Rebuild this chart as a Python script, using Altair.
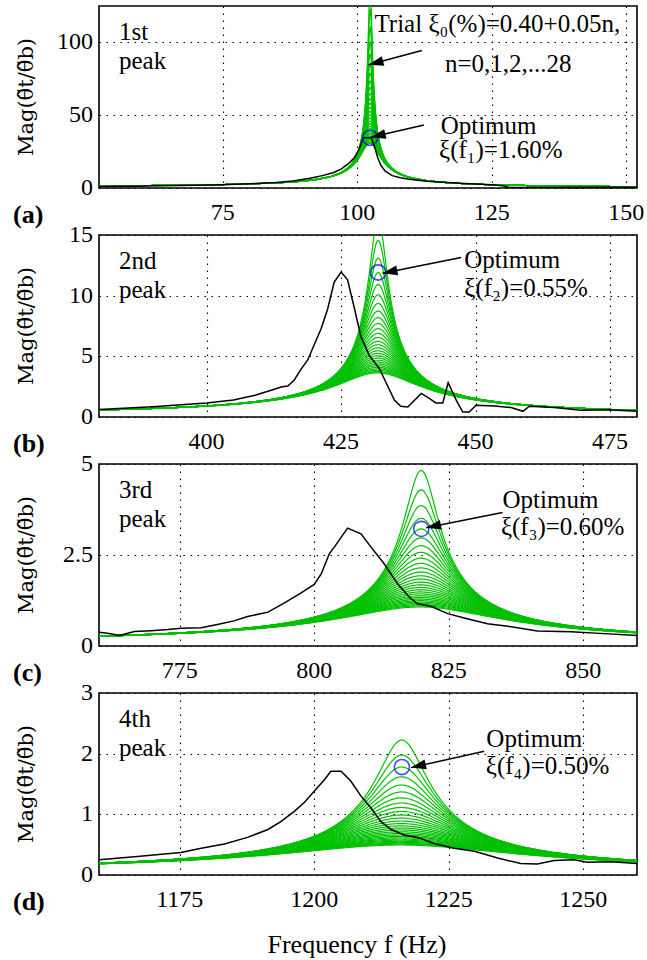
import math
import numpy as np
import pandas as pd
import altair as alt

FONT = "Liberation Serif"
GREEN = "#00c000"
W, H = 538, 182

# Trial damping ratios (%) : 0.40 + 0.05n, n = 0..28
trial_xi = [0.40, 0.45, 0.50, 0.55, 0.60, 0.65, 0.70, 0.75, 0.80, 0.85,
            0.90, 0.95, 1.00, 1.05, 1.10, 1.15, 1.20, 1.25, 1.30, 1.35,
            1.40, 1.45, 1.50, 1.55, 1.60, 1.65, 1.70, 1.75, 1.80]

panel_tags = ["(a)", "(b)", "(c)", "(d)"]
peak_names = ["1st", "2nd", "3rd", "4th"]
x_domains = [(52, 152), (380, 480), (760, 860), (1160, 1260)]
x_ticks = [[75, 100, 125, 150], [400, 425, 450, 475],
           [775, 800, 825, 850], [1175, 1200, 1225, 1250]]
y_max = [125, 15, 5, 3]
y_ticks = [[0, 50, 100], [0, 5, 10, 15], [0, 2.5, 5], [0, 1, 2, 3]]
y_title = "Mag(θ̃t/θ̃b)"
x_title = "Frequency f (Hz)"

# single-mode model of each peak
natural_freq = [102.4, 431.9, 819.9, 1216.3]
modal_gain = [1.104, 0.131, 0.0386, 0.0178]
optimum_xi = [1.60, 0.55, 0.60, 0.50]
opt_sub = ["₁", "₂", "₃", "₄"]

# measured transmissibility
meas_f = [
    [52, 58, 64, 70, 75, 80, 85, 88, 91, 93.5, 95.5, 97, 98.3, 99.5, 100.4, 101.1,
     102.6, 103.2, 103.8, 104.4, 105.2, 106.5, 108, 110, 113, 116, 120, 125, 127,
     128.3, 130, 135, 140, 145, 152],
    [380, 390, 400, 405, 409, 412, 414, 415.1, 416.3, 417.5, 418.8, 420, 421.3, 422.5,
     423.7, 425, 426.2, 427.5, 428.7, 430.2, 432.1, 434.9, 436.1, 437.4, 439.9, 441.4,
     442.6, 443.9, 444.9, 446.4, 447.6, 448.8, 450.1, 453.5, 456.6, 458.8, 460, 464.6,
     469.6, 474.6, 480],
    [760, 761.6, 763.8, 766.6, 769.7, 772.8, 775.2, 779, 782, 785.1, 787.6, 791.4,
     794.4, 797.5, 800, 801.3, 802.8, 803.7, 806.2, 808.7, 810.6, 813, 815.5, 817.7,
     819.2, 821.7, 824.8, 827.9, 832.2, 836, 841.5, 847.7, 853.9, 860],
    [1160, 1166.6, 1175.2, 1179, 1183.3, 1187.6, 1191.4, 1193.8, 1196.3, 1198.2, 1200,
     1201.9, 1203.1, 1205, 1206.8, 1208.7, 1210.6, 1212.4, 1214.3, 1216.7, 1219.2,
     1222.3, 1226, 1229.8, 1234.1, 1238.4, 1241.5, 1244.6, 1248.3, 1250.8, 1255.2, 1260],
]
meas_m = [
    [1.0, 1.2, 1.5, 1.9, 2.3, 2.9, 3.8, 4.8, 6.5, 8.5, 10.5, 13.0, 16.5, 21.0, 27.0, 34.5,
     34.5, 28.5, 21.0, 15.5, 11.5, 8.5, 7.0, 5.8, 4.7, 3.9, 3.1, 2.3, 1.6,
     0.4, 0.3, 0.4, 0.5, 0.5, 0.5],
    [0.61, 0.85, 1.16, 1.4, 1.8, 2.2, 2.5, 2.55, 3.05, 3.9, 4.7, 5.95, 7.3, 8.9,
     11.1, 11.95, 11.3, 8.9, 6.6, 5.1, 4.0, 1.39, 0.89, 0.83, 1.94, 1.53,
     1.16, 1.16, 2.82, 1.39, 0.41, 0.41, 0.97, 0.91, 0.78, 0.47, 0.89, 0.78,
     0.56, 0.6, 0.47],
    [0.38, 0.35, 0.29, 0.40, 0.42, 0.45, 0.49, 0.50, 0.59, 0.69, 0.81, 0.93,
     1.18, 1.45, 1.69, 1.98, 2.53, 2.71, 3.24, 3.08, 2.71, 2.26, 1.71, 1.34,
     1.16, 1.09, 0.89, 0.77, 0.61, 0.54, 0.41, 0.39, 0.34, 0.29],
    [0.25, 0.30, 0.37, 0.44, 0.51, 0.62, 0.75, 0.88, 1.05, 1.2, 1.38,
     1.57, 1.71, 1.71, 1.55, 1.30, 1.10, 0.88, 0.75, 0.66, 0.62,
     0.52, 0.44, 0.39, 0.28, 0.19, 0.18, 0.24, 0.25, 0.21, 0.22, 0.19],
]

# annotation anchors (frequency, magnitude)
opt_text_pos = [(115.5, 37.0), (447.9, 12.25), (835.0, 3.80), (1232.0, 2.11)]
opt_text_pos2 = [(115.2, 20.8), (447.9, 10.0), (834.7, 3.06), (1231.9, 1.66)]
opt_arrows = [((112.4, 43.2), (102.5, 34.8)), ((447.3, 13.15), (432.7, 11.84)),
              ((835.0, 3.67), (820.8, 3.25)), ((1231.6, 2.04), (1218.0, 1.77))]
trial_text = [("Trial ξ₀(%)=0.40+0.05n,", 103.2, 106.8), ("n=0,1,2,...28", 116.3, 79.5)]
trial_arrow = ((112.0, 94.5), (102.1, 84.6))

ARROW_HEAD = "M0,0L-1,-0.33L-1,0.33Z"


def model_mag(f, fn, gain, xi_pct):
    r = f / fn
    z = xi_pct / 100.0
    return gain / np.sqrt((1 - r ** 2) ** 2 + (2 * z * r) ** 2)


def txt(df, **kw):
    style = dict(font=FONT, fontSize=24, color="black")
    style.update(kw)
    return alt.Chart(df).mark_text(**style)


def panel(i):
    xmin, xmax = x_domains[i]
    ym = y_max[i]
    fn, gain = natural_freq[i], modal_gain[i]
    last = i == 3

    xs = alt.Scale(domain=[xmin, xmax], nice=False, zero=False)
    ys = alt.Scale(domain=[0, ym], nice=False)
    # axes only supply the dotted grid; labels are drawn as text below
    xaxis = alt.Axis(values=x_ticks[i], labels=False, title=None)
    yaxis = alt.Axis(values=y_ticks[i], labels=False, title=None)
    X = alt.X("f:Q", scale=xs, axis=xaxis)
    Y = alt.Y("mag:Q", scale=ys, axis=yaxis)

    # frequency grid, refined around the resonance
    fgrid = np.unique(np.concatenate([
        np.linspace(xmin, xmax, 300),
        fn * (1 + np.linspace(-0.04, 0.04, 241)),
    ]))
    fgrid = fgrid[(fgrid >= xmin) & (fgrid <= xmax)]
    rows = []
    for xi in trial_xi:
        m = model_mag(fgrid, fn, gain, xi)
        rows.append(pd.DataFrame({"f": np.round(fgrid, 4), "mag": np.round(m, 4), "xi": xi}))
    green_df = pd.concat(rows, ignore_index=True)

    green = alt.Chart(green_df).mark_line(color=GREEN, strokeWidth=1.2, clip=True).encode(
        x=X, y=Y, detail="xi:N")

    meas_df = pd.DataFrame({"f": meas_f[i], "mag": meas_m[i]})
    black = alt.Chart(meas_df).mark_line(color="black", strokeWidth=1.5, clip=True).encode(x=X, y=Y)

    opt_mag = float(model_mag(np.array([fn]), fn, gain, optimum_xi[i])[0])
    circ = alt.Chart(pd.DataFrame({"f": [fn], "mag": [opt_mag]})).mark_point(
        shape="circle", size=230, filled=False, color="#0000ff", strokeWidth=1.6
    ).encode(x=X, y=Y)

    # arrows
    arrows = [opt_arrows[i]]
    if i == 0:
        arrows.append(trial_arrow)
    arr_rows = []
    for (tx, ty), (hx, hy) in arrows:
        dxp = (hx - tx) / (xmax - xmin) * W
        dyp = -(hy - ty) / ym * H
        ang = math.degrees(math.atan2(dyp, dxp)) % 360
        arr_rows.append({"f": tx, "mag": ty, "f2": hx, "mag2": hy, "ang": ang})
    arr_df = pd.DataFrame(arr_rows)
    shafts = alt.Chart(arr_df).mark_rule(color="black", strokeWidth=1.5).encode(
        x=X, y=Y, x2="f2:Q", y2="mag2:Q")
    heads = alt.Chart(arr_df).mark_point(
        shape=ARROW_HEAD, size=900, filled=True, color="black", opacity=1, strokeWidth=0
    ).encode(x=alt.X("f2:Q", scale=xs, axis=xaxis), y=alt.Y("mag2:Q", scale=ys, axis=yaxis),
             angle=alt.Angle("ang:Q", scale=None))

    # text annotations inside the plot
    dx = (xmax - xmin) * 20 / W
    txt_rows = [
        {"f": xmin + dx, "mag": ym * (1 - 34 / H), "t": peak_names[i]},
        {"f": xmin + dx, "mag": ym * (1 - 63 / H), "t": "peak"},
        {"f": opt_text_pos[i][0], "mag": opt_text_pos[i][1], "t": "Optimum"},
        {"f": opt_text_pos2[i][0], "mag": opt_text_pos2[i][1],
         "t": f"ξ(f{opt_sub[i]})={optimum_xi[i]:.2f}%"},
    ]
    if i == 0:
        for t, fx, my in trial_text:
            txt_rows.append({"f": fx, "mag": my, "t": t})
    texts = txt(pd.DataFrame(txt_rows), fontSize=25, align="left",
                baseline="alphabetic").encode(x=X, y=Y, text="t:N")

    # tick labels
    xlab = txt(pd.DataFrame({"f": x_ticks[i], "t": [f"{v:g}" for v in x_ticks[i]]}),
               align="center", baseline="middle").encode(
        x=X, y=alt.value(H + 25), text="t:N")
    ylab = txt(pd.DataFrame({"mag": y_ticks[i], "t": [f"{v:g}" for v in y_ticks[i]]}),
               align="right", baseline="middle").encode(
        x=alt.value(-6), y=Y, text="t:N")
    ytitle = txt(pd.DataFrame({"t": [y_title]}), font="DejaVu Serif", fontSize=21, angle=270,
                 align="center", baseline="middle").encode(
        x=alt.value(-72), y=alt.value(H / 2), text="t:N")
    tag = txt(pd.DataFrame({"t": [panel_tags[i]]}), fontSize=26, fontWeight="bold",
              align="left", baseline="middle").encode(
        x=alt.value(-86), y=alt.value(H + 27), text="t:N")

    layers = [green, black, circ, shafts, heads, texts, xlab, ylab, ytitle, tag]
    if last:
        layers.append(txt(pd.DataFrame({"t": [x_title]}), fontSize=26,
                          align="center", baseline="middle").encode(
            x=alt.value(258), y=alt.value(H + 70), text="t:N"))
    return alt.layer(*layers).properties(width=W, height=H)


chart = alt.vconcat(*[panel(i) for i in range(4)], spacing=47, bounds="flush").properties(
    padding={"left": 12, "top": 5, "right": 0, "bottom": 5}
).configure(
    background="white"
).configure_view(
    stroke="black", strokeWidth=1.6
).configure_axis(
    grid=True, gridDash=[1.5, 5.5], gridColor="black", gridOpacity=1, gridWidth=1.1,
    ticks=False, domain=False, labels=False,
)

chart.save("out.html", embed_options={"renderer": "svg", "actions": False})
